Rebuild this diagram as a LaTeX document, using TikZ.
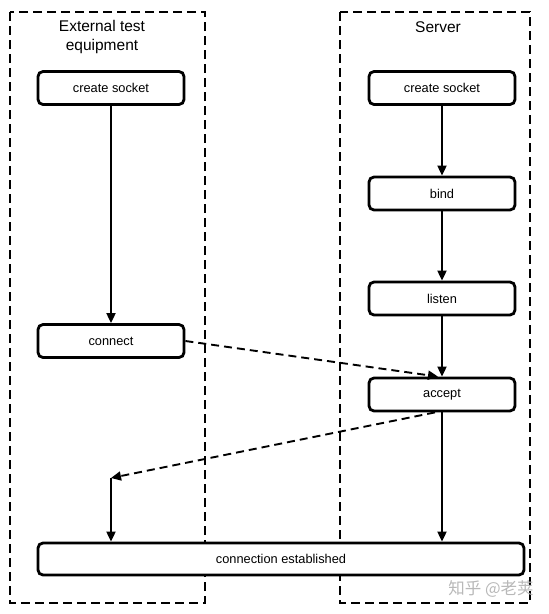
\documentclass[tikz,border=0pt]{standalone}
\usepackage{fontspec}
\setmainfont{Liberation Sans}
\newfontfamily\cjkfont{Noto Sans CJK SC}
\usetikzlibrary{arrows.meta}
\begin{document}
\begin{tikzpicture}[x=1pt,y=-1pt,
 lane/.style={draw, dash pattern=on 9pt off 5pt, line width=1.7pt},
 box/.style={draw, fill=white, line width=2.8pt, rounded corners=5pt, minimum width=146pt, minimum height=33pt, font=\fontsize{12.8}{15}\selectfont, inner sep=0pt},
 flow/.style={line width=1.9pt, -{Triangle[length=10pt,width=9pt]}},
 msg/.style={flow, dash pattern=on 8pt off 5pt},
 title/.style={font=\fontsize{15.5}{19}\selectfont, align=center}]
\useasboundingbox (0,0) rectangle (549,614);
\draw[lane] (10,12) rectangle (205,603);
\draw[lane] (340,12) rectangle (530,603);
\node[title] (t1) at (102,37) {External test\\equipment};
\node[title] (t2) at (438,27) {Server};
\node[box] (lcs) at (111,88) {create socket};
\node[box] (conn) at (111,341) {connect};
\node[box] (rcs) at (442,88) {create socket};
\node[box] (bind) at (442,193.5) {bind};
\node[box] (listen) at (442,298.5) {listen};
\node[box] (accept) at (442,394.5) {accept};
\node[box, minimum width=486pt, minimum height=32pt] (est) at (281,559) {connection established};
\draw[flow] (lcs) -- (conn);
\draw[flow] (rcs) -- (bind);
\draw[flow] (bind) -- (listen);
\draw[flow] (listen) -- (accept);
\draw[flow] (accept.south) -- (accept.south |- est.north);
\draw[msg] (conn.east) -- ([xshift=-4pt]accept.north);
\coordinate (j) at (111,478);
\draw[msg] ([xshift=-7pt]accept.south) -- (j);
\draw[flow] (j) -- (j |- est.north);
\node[text=black!28, font=\cjkfont\fontsize{16.5}{18}\selectfont] (wm) at (491,589) {知乎 @老荚};
\end{tikzpicture}
\end{document}
